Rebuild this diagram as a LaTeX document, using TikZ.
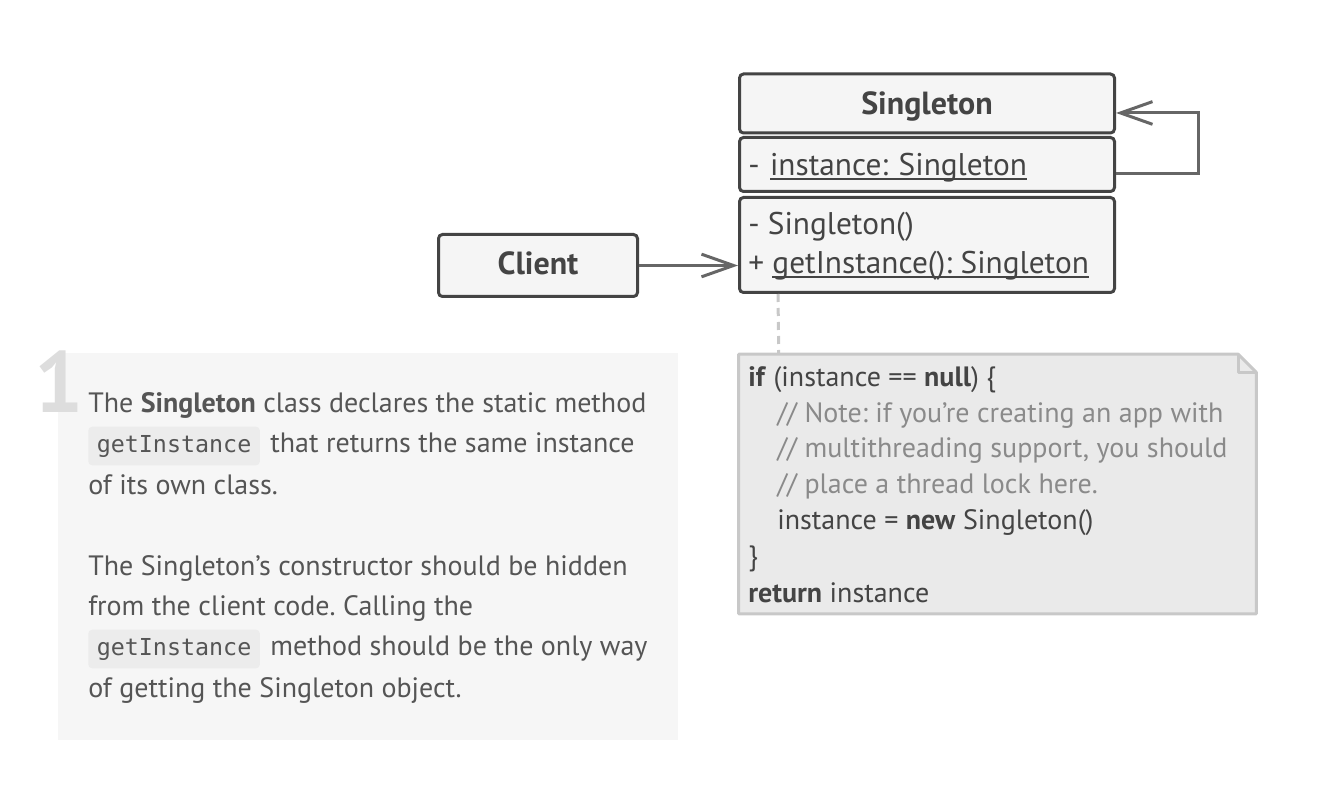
\documentclass[tikz,border=0pt]{standalone}
\usepackage{fontspec}
\setmainfont{PT Sans}
\setmonofont{DejaVu Sans Mono}
\usetikzlibrary{arrows.meta, positioning, calc}
\definecolor{mainDark}{HTML}{444444}
\definecolor{arrowGray}{HTML}{666666}
\definecolor{boxFill}{HTML}{F5F5F5}
\definecolor{panelFill}{HTML}{F6F6F6}
\definecolor{noteFill}{HTML}{EAEAEA}
\definecolor{noteLine}{HTML}{C8C8C8}
\definecolor{commentGray}{HTML}{8A8A8A}
\definecolor{textGray}{HTML}{555555}
\definecolor{numGray}{HTML}{DDDDDD}
\definecolor{codeFill}{HTML}{ECECEC}
\newcommand{\stUnder}[1]{\setbox0\hbox{#1}\rlap{\rule[-3.2pt]{\wd0}{1.4pt}}\box0}

\begin{document}
\frenchspacing
\begin{tikzpicture}[x=0.75pt, y=-0.75pt,
    classbox/.style={draw=mainDark, line width=2.25pt, fill=boxFill, rounded corners=3pt,
      text=mainDark, font=\fontsize{23.5}{28}\selectfont},
    titlefont/.style={font=\fontsize{24}{28}\bfseries\selectfont},
    assoc/.style={draw=arrowGray, line width=2.25pt, -{Straight Barb[length=24pt, width=17pt]}},
    ptext/.style={anchor=base west, inner sep=0pt, text=textGray, font=\fontsize{21}{25}\selectfont},
    ntext/.style={anchor=base west, inner sep=0pt, text=mainDark, font=\fontsize{21}{25}\selectfont},
    umltext/.style={ntext, font=\fontsize{23.5}{28}\selectfont},
    codebox/.style={anchor=base west, fill=codeFill, rounded corners=3pt, inner xsep=6.4pt,
      minimum height=29pt, text=textGray, font=\ttfamily\fontsize{17.5}{20}\selectfont}]
    \useasboundingbox (0,0) rectangle (1322,788);

    % クラス図
    \node[classbox, titlefont, minimum width=281.25pt, minimum height=44.25pt,
      text height=22pt, text depth=5pt] (sgHead) at (927,103.5) {Singleton};
    \node[classbox, minimum width=281.25pt, minimum height=40.5pt, align=left, text width=268pt,
      text height=21.5pt, text depth=5pt] (sgAttr) at (927,164.5) {- \stUnder{instance: Singleton}};
    \node[classbox, minimum width=281.25pt, minimum height=71.25pt] (sgOps) at (927,245) {};
    \node[umltext] (op1) at (748,235) {- Singleton()};
    \node[umltext] (op2) at (748,274) {+ \stUnder{getInstance(): Singleton}};
    \node[classbox, titlefont, minimum width=149.25pt, minimum height=46.5pt,
      text height=19pt, text depth=5pt] (client) at (538,265.5) {Client};

    \draw[assoc] (client.east) -- (client.east -| sgOps.west);
    \draw[assoc] ([yshift=-6.4pt]sgAttr.east) -- ++(82,0) |- ([yshift=-7.1pt]sgHead.east);

    % ノート
    \node[minimum width=387.75pt, minimum height=194.25pt, inner sep=0pt] (note) at (997.5,484) {};
    \draw[noteLine, line width=2.25pt, fill=noteFill, line join=round]
      (note.south west) -- (note.north west) -- ([xshift=-13.5pt]note.north east)
      -- ([yshift=-13.5pt]note.north east) -- (note.south east) -- cycle;
    \draw[noteLine, line width=2.25pt, line join=round]
      ([xshift=-13.5pt]note.north east) |- ([yshift=-13.5pt]note.north east);
    \draw[noteLine, line width=2.25pt, dash pattern=on 6pt off 4.5pt]
      ([xshift=30pt]sgOps.south west) -- ([xshift=30pt]note.north west);

    \node[ntext] (n1) at (748,386) {\textbf{if} (instance == \textbf{null}) \{};
    \node[ntext, text=commentGray] (n2) at (777,422) {// Note: if you’re creating an app with};
    \node[ntext, text=commentGray] (n3) at (777,457) {// multithreading support, you should};
    \node[ntext, text=commentGray] (n4) at (777,493) {// place a thread lock here.};
    \node[ntext] (n5) at (777,529) {instance = \textbf{new} Singleton()};
    \node[ntext] (n6) at (748,565) {\}};
    \node[ntext] (n7) at (748,602) {\textbf{return} instance};

    % 説明文
    \node[fill=panelFill, minimum width=465pt, minimum height=290.25pt, inner sep=0pt]
      (panel) at (368,546.5) {};
    \node[anchor=base east, inner sep=0pt, text=numGray, font=\fontsize{65}{65}\bfseries\selectfont]
      (stepNum) at (83.5,412) {1};

    \node[ptext] (p1) at (88,412) {The \textbf{Singleton} class declares the static method};
    \node[codebox] (code1) at (88,452) {getInstance};
    \node[ptext] (p2) at ([xshift=7.5pt]code1.base east) {that returns the same instance};
    \node[ptext] (p3) at (88,494) {of its own class.};
    \node[ptext] (p4) at (88,575) {The Singleton’s constructor should be hidden};
    \node[ptext] (p5) at (88,615) {from the client code. Calling the};
    \node[codebox] (code2) at (88,655) {getInstance};
    \node[ptext] (p6) at ([xshift=7.5pt]code2.base east) {method should be the only way};
    \node[ptext] (p7) at (88,697) {of getting the Singleton object.};
\end{tikzpicture}
\end{document}
